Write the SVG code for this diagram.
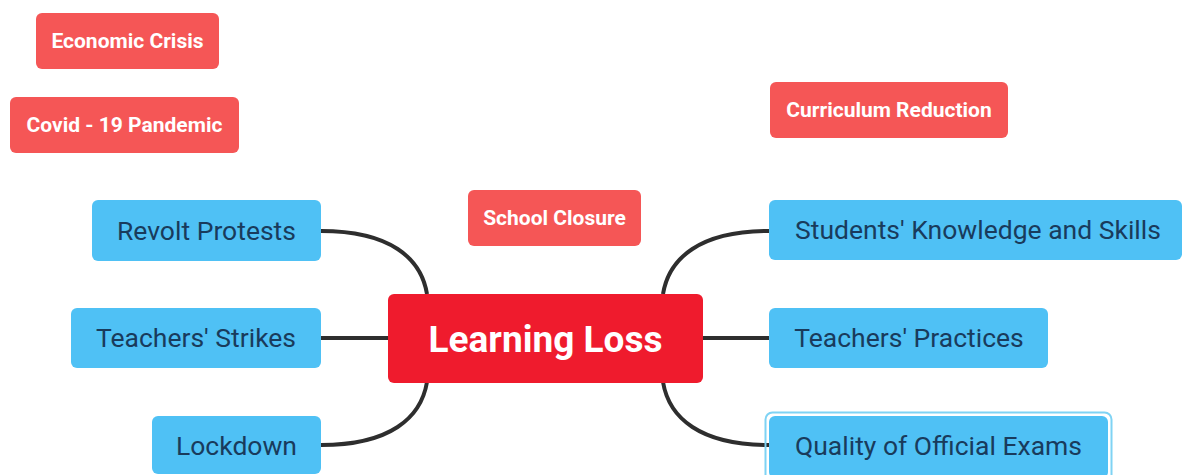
<svg xmlns="http://www.w3.org/2000/svg" width="1183" height="475" viewBox="0 0 1183 475">
<style>
.red rect{fill:#f55656;}
.red text{fill:#fff;font-family:Roboto,"Liberation Sans",sans-serif;font-weight:700;font-size:21px;text-anchor:middle;}
.blue rect{fill:#4fc1f5;}
.blue text{fill:#193b5c;font-family:Roboto,"Liberation Sans",sans-serif;font-size:26.5px;text-anchor:middle;}
.main rect{fill:#ef1b2d;}
.main text{fill:#fff;font-family:Roboto,"Liberation Sans",sans-serif;font-weight:700;font-size:37px;text-anchor:middle;}
.conn path{fill:none;stroke:#2e2e2e;stroke-width:4;}
</style>
<rect width="1183" height="475" fill="#fff"/>
<g class="conn" id="connectors">
<path d="M321,231 C390,231 421,258 427,294"/>
<path d="M321,338 L389,338"/>
<path d="M321,445 C390,445 421,418 427,382"/>
<path d="M769,231 C700,231 669,258 663,294"/>
<path d="M702,338 L769,338"/>
<path d="M769,445 C700,445 669,418 663,382"/>
</g>
<g id="economic-crisis" class="red"><rect x="36" y="13" width="183" height="56" rx="6"/><text x="127.5" y="48">Economic Crisis</text></g>
<g id="covid" class="red"><rect x="10" y="97" width="229" height="56" rx="6"/><text x="124.5" y="132">Covid - 19 Pandemic</text></g>
<g id="curriculum-reduction" class="red"><rect x="770" y="82" width="238" height="56" rx="6"/><text x="889" y="117">Curriculum Reduction</text></g>
<g id="school-closure" class="red"><rect x="468" y="190" width="173" height="56" rx="6"/><text x="554.5" y="225">School Closure</text></g>
<g id="learning-loss" class="main"><rect x="388" y="294" width="315" height="89" rx="6"/><text x="545.5" y="352">Learning Loss</text></g>
<g id="revolt-protests" class="blue"><rect x="92" y="200" width="229" height="61" rx="6"/><text x="206.5" y="240">Revolt Protests</text></g>
<g id="teachers-strikes" class="blue"><rect x="71" y="308" width="250" height="60" rx="6"/><text x="196" y="347">Teachers' Strikes</text></g>
<g id="lockdown" class="blue"><rect x="152" y="416" width="169" height="58" rx="6"/><text x="236.5" y="455">Lockdown</text></g>
<g id="students-knowledge" class="blue"><rect x="769" y="200" width="413" height="60" rx="6"/><text x="978" y="239">Students' Knowledge and Skills</text></g>
<g id="teachers-practices" class="blue"><rect x="769" y="308" width="279" height="60" rx="6"/><text x="909" y="347">Teachers' Practices</text></g>
<g id="quality-exams" class="blue"><rect x="765.5" y="412.5" width="346" height="70" rx="7" stroke="#7fd3f4" stroke-width="2" style="fill:none"/><rect x="769" y="416" width="339" height="62" rx="6"/><text x="938.5" y="455">Quality of Official Exams</text></g>
</svg>
